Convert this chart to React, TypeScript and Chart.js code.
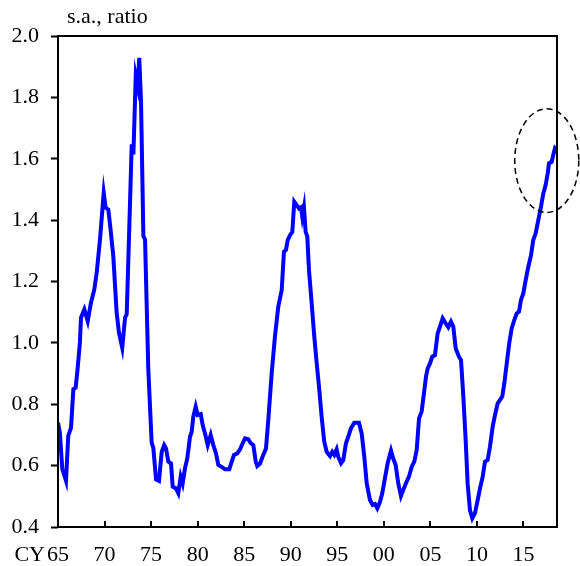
import { useEffect, useRef } from "react";
import { Chart, registerables } from "chart.js";

Chart.register(...registerables);

const years = [
  1965.0, 1965.2, 1965.46, 1965.86, 1966.1, 1966.4, 1966.65, 1966.9, 1967.1, 1967.35,
  1967.47, 1967.83, 1968.19, 1968.54, 1968.9, 1969.16, 1969.51, 1969.91, 1970.12, 1970.4,
  1970.59, 1970.94, 1971.3, 1971.55, 1971.9, 1972.2, 1972.38, 1972.63, 1972.92, 1973.1,
  1973.35, 1973.56, 1973.73, 1973.92, 1974.17, 1974.35, 1974.7, 1975.06, 1975.24, 1975.53,
  1975.85, 1976.14, 1976.4, 1976.6, 1976.85, 1977.14, 1977.32, 1977.67, 1977.92, 1978.18,
  1978.39, 1978.64, 1978.89, 1979.18, 1979.36, 1979.53, 1979.79, 1980.0, 1980.33, 1980.54,
  1980.79, 1981.08, 1981.4, 1981.68, 1981.97, 1982.22, 1982.58, 1982.94, 1983.4, 1983.66,
  1983.9, 1984.26, 1984.55, 1984.84, 1985.09, 1985.44, 1985.7, 1985.98, 1986.24, 1986.4,
  1986.7, 1987.05, 1987.34, 1987.59, 1987.95, 1988.3, 1988.66, 1989.03, 1989.27, 1989.49,
  1989.67, 1989.92, 1990.17, 1990.38, 1990.64, 1990.89, 1991.1, 1991.24, 1991.42, 1991.6,
  1991.78, 1991.96, 1992.25, 1992.53, 1992.79, 1993.07, 1993.32, 1993.6, 1993.86, 1994.22,
  1994.46, 1994.68, 1994.93, 1995.1, 1995.4, 1995.64, 1995.93, 1996.18, 1996.47, 1996.83,
  1997.33, 1997.62, 1997.9, 1998.16, 1998.51, 1998.8, 1999.05, 1999.3, 1999.59, 1999.83,
  2000.12, 2000.41, 2000.77, 2001.0, 2001.27, 2001.55, 2001.84, 2002.09, 2002.45, 2002.7,
  2002.99, 2003.27, 2003.53, 2003.78, 2004.06, 2004.31, 2004.53, 2004.71, 2004.96, 2005.2,
  2005.49, 2005.78, 2006.03, 2006.32, 2006.64, 2006.92, 2007.21, 2007.46, 2007.72, 2008.07,
  2008.29, 2008.54, 2008.79, 2009.0, 2009.25, 2009.5, 2009.79, 2010.08, 2010.33, 2010.62,
  2010.86, 2011.15, 2011.4, 2011.69, 2011.94, 2012.23, 2012.48, 2012.72, 2012.94, 2013.2,
  2013.47, 2013.73, 2014.01, 2014.27, 2014.52, 2014.73, 2014.98, 2015.24, 2015.52, 2015.81,
  2016.05, 2016.31, 2016.59, 2016.88, 2017.13, 2017.38, 2017.6, 2017.74, 2018.03, 2018.2,
  2018.38, 2018.56,
];

const ratio = [
  0.74, 0.707, 0.589, 0.55, 0.697, 0.724, 0.849, 0.854, 0.914, 1.0,
  1.082, 1.109, 1.071, 1.131, 1.174, 1.229, 1.337, 1.489, 1.44, 1.435,
  1.386, 1.283, 1.098, 1.033, 0.984, 1.082, 1.093, 1.348, 1.647, 1.614,
  1.87, 1.837, 1.929, 1.783, 1.348, 1.337, 0.914, 0.675, 0.658, 0.555,
  0.55, 0.645, 0.667, 0.656, 0.613, 0.607, 0.531, 0.526, 0.51, 0.564,
  0.542, 0.591, 0.624, 0.694, 0.71, 0.759, 0.792, 0.765, 0.768, 0.732,
  0.705, 0.667, 0.7, 0.667, 0.64, 0.602, 0.596, 0.588, 0.588, 0.613,
  0.635, 0.64, 0.653, 0.673, 0.689, 0.686, 0.673, 0.667, 0.613, 0.599,
  0.607, 0.635, 0.656, 0.749, 0.9, 1.02, 1.118, 1.172, 1.297, 1.303,
  1.335, 1.351, 1.362, 1.46, 1.449, 1.438, 1.442, 1.411, 1.442, 1.362,
  1.346, 1.237, 1.129, 1.02, 0.933, 0.846, 0.759, 0.678, 0.645, 0.631,
  0.645, 0.635, 0.653, 0.629, 0.608, 0.618, 0.673, 0.694, 0.722, 0.74,
  0.74, 0.705, 0.629, 0.542, 0.488, 0.472, 0.475, 0.461, 0.482, 0.51,
  0.559, 0.608, 0.649, 0.624, 0.602, 0.542, 0.501, 0.521, 0.548, 0.564,
  0.596, 0.613, 0.651, 0.754, 0.776, 0.836, 0.89, 0.917, 0.933, 0.955,
  0.96, 1.031, 1.053, 1.08, 1.064, 1.051, 1.069, 1.053, 0.982, 0.955,
  0.944, 0.825, 0.683, 0.542, 0.455, 0.428, 0.445, 0.488, 0.526, 0.564,
  0.613, 0.618, 0.662, 0.727, 0.765, 0.803, 0.814, 0.825, 0.868, 0.933,
  0.999, 1.047, 1.074, 1.096, 1.102, 1.14, 1.161, 1.205, 1.248, 1.286,
  1.335, 1.357, 1.4, 1.444, 1.487, 1.514, 1.552, 1.585, 1.59, 1.612,
  1.634, 1.628,
];

const tickYears = [1965, 1970, 1975, 1980, 1985, 1990, 1995, 2000, 2005, 2010, 2015];
const tickLabels = ["65", "70", "75", "80", "85", "90", "95", "00", "05", "10", "15"];
const yTicks = [0.4, 0.6, 0.8, 1.0, 1.2, 1.4, 1.6, 1.8, 2.0];
const unitLabel = "s.a., ratio";
const axisPrefix = "CY";
const highlightCenter = [2017.5, 1.594];
const highlightRadius = [3.44, 0.169];

const FONT = "'Liberation Serif', 'Times New Roman', serif";

export default function App() {
  const ref = useRef<HTMLCanvasElement>(null);

  useEffect(() => {
    if (!ref.current) return;

    const overlay = {
      id: "overlay",
      afterDraw(chart: any) {
        const { ctx, chartArea: a, scales } = chart;
        const xs = scales.x;
        const ys = scales.y;
        ctx.save();
        ctx.strokeStyle = "#000";
        ctx.lineWidth = 2;
        tickYears.forEach((t) => {
          const px = Math.round(xs.getPixelForValue(t));
          ctx.beginPath();
          ctx.moveTo(px, a.bottom);
          ctx.lineTo(px, a.bottom - 6);
          ctx.stroke();
        });
        ctx.strokeRect(a.left, a.top, a.right - a.left, a.bottom - a.top);

        const cx = xs.getPixelForValue(highlightCenter[0]);
        const cy = ys.getPixelForValue(highlightCenter[1]);
        const rx = Math.abs(xs.getPixelForValue(highlightCenter[0] + highlightRadius[0]) - cx);
        const ry = Math.abs(ys.getPixelForValue(highlightCenter[1] + highlightRadius[1]) - cy);
        ctx.lineWidth = 1.5;
        ctx.setLineDash([6, 4]);
        ctx.beginPath();
        ctx.ellipse(cx, cy, rx, ry, 0, 0, Math.PI * 2);
        ctx.stroke();
        ctx.setLineDash([]);

        ctx.fillStyle = "#000";
        ctx.font = `22px ${FONT}`;
        ctx.textBaseline = "alphabetic";
        ctx.textAlign = "left";
        ctx.fillText(unitLabel, a.left + 9, a.top - 13);
        ctx.textAlign = "right";
        ctx.fillText(axisPrefix, xs.getPixelForValue(tickYears[0]) - 13, a.bottom + 34);
        ctx.restore();
      },
    };

    const chart = new Chart(ref.current, {
      type: "line",
      data: {
        datasets: [
          {
            data: years.map((yr, i) => ({ x: yr, y: ratio[i] })),
            borderColor: "#0000ff",
            borderWidth: 4,
            pointRadius: 0,
            tension: 0,
            fill: false,
          },
        ],
      },
      options: {
        responsive: false,
        animation: false,
        layout: { padding: { top: 36, right: 23, left: 0, bottom: 0 } },
        scales: {
          x: {
            type: "linear",
            min: 1965,
            max: 2018.6,
            afterBuildTicks: (s: any) => {
              s.ticks = tickYears.map((v) => ({ value: v }));
            },
            afterFit: (s: any) => {
              s.height = 39;
            },
            ticks: {
              autoSkip: false,
              maxRotation: 0,
              padding: 7,
              color: "#000",
              font: { family: FONT, size: 22 },
              callback: (v: any) => {
                const i = tickYears.indexOf(Number(v));
                return i >= 0 ? tickLabels[i] : "";
              },
            },
            grid: { display: false },
            border: { display: false },
          },
          y: {
            min: 0.4,
            max: 2.0,
            afterBuildTicks: (s: any) => {
              s.ticks = yTicks.map((v) => ({ value: v }));
            },
            afterFit: (s: any) => {
              s.width = 58;
            },
            ticks: {
              padding: 12,
              color: "#000",
              font: { family: FONT, size: 22 },
              callback: (v: any) => Number(v).toFixed(1),
            },
            grid: {
              drawOnChartArea: false,
              drawTicks: true,
              tickLength: 7,
              tickColor: "#000",
              tickWidth: 2,
            },
            border: { display: false },
          },
        },
        plugins: {
          legend: { display: false },
          tooltip: { enabled: false },
        },
      },
      plugins: [overlay],
    });

    return () => chart.destroy();
  }, []);

  return (
    <div style={{ position: "absolute", left: 0, top: 0, width: 580, height: 566 }}>
      <canvas ref={ref} width={580} height={566} />
    </div>
  );
}
